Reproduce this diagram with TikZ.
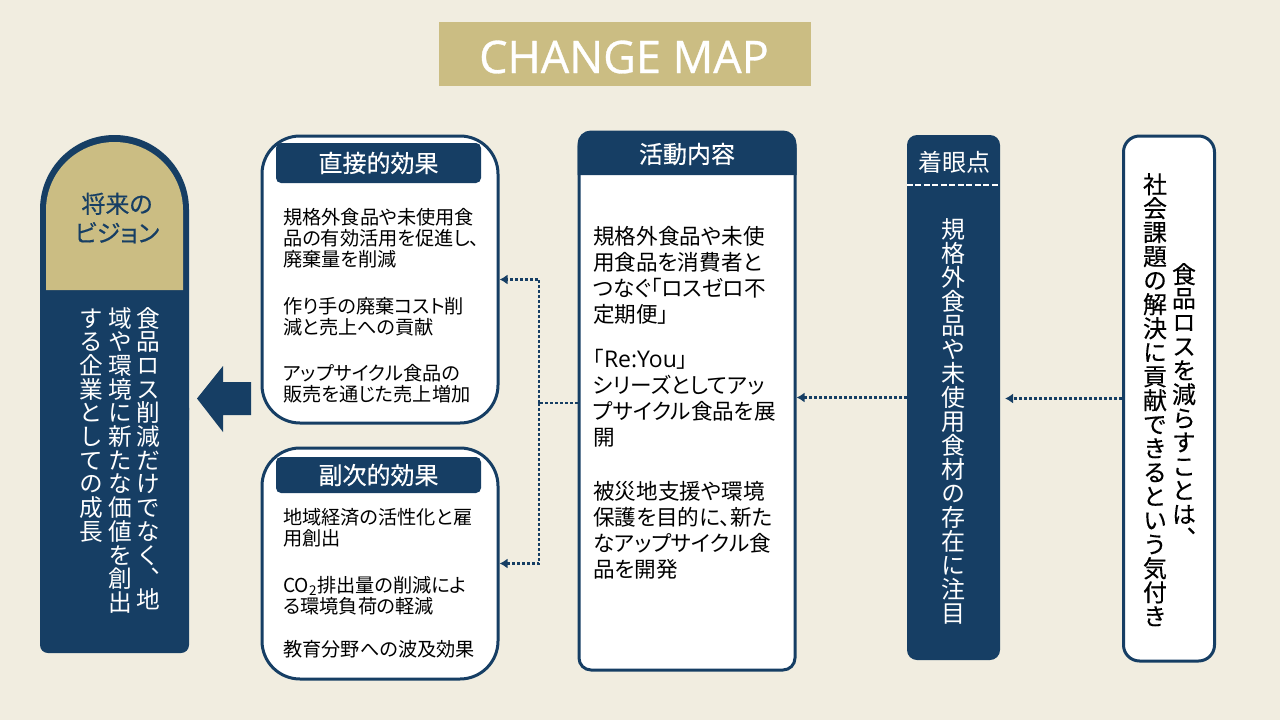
\documentclass[tikz,border=0pt]{standalone}
\usepackage{fontspec}
\usetikzlibrary{arrows.meta,calc}
\setmainfont[RawFeature=+palt]{Noto Sans CJK JP}
\newfontfamily\vertfont[RawFeature=+vert]{Noto Sans CJK JP}
\newfontfamily\vertbold[RawFeature=+vert,FakeBold=0.25]{Noto Sans CJK JP}
\newfontfamily\headfont[RawFeature=+palt,FakeBold=0.45]{Noto Sans CJK JP}
\newfontfamily\titlefont[FakeBold=0.7]{Open Sans}
\newfontfamily\latinfont{Open Sans}
\definecolor{bg}{HTML}{F1EDE0}
\definecolor{navy}{HTML}{163E64}
\definecolor{gold}{HTML}{CBBD83}
\makeatletter
\def\vcomma{、}
\newcommand\vstack[1]{\vbox{\offinterlineskip\@tfor\vch:=#1\do{\hbox to 1em{\hss\ifx\vch\vcomma\vrule height .88em depth -.38em width 0pt\else\vrule height .88em depth .12em width 0pt\fi\smash{\vch}\hss}}}}
\newcommand\vcol[2]{{\fontsize{#1}{#1}\vertfont\vstack{#2}}}
\newcommand\vcolb[2]{{\fontsize{#1}{#1}\vertbold\vstack{#2}}}
\makeatother
\tikzset{
  x=1pt,y=-1pt,
  framebox/.style={draw=navy,line width=3pt,fill=white,minimum width=#1,inner sep=0pt},
  headbar/.style={fill=navy,text=white,rounded corners=5pt,inner sep=0pt,font=\headfont\fontsize{24}{24}\selectfont},
  bodytext/.style={anchor=north west,inner sep=0pt,align=left,text=black,font=\fontsize{19.2}{21}\selectfont},
  midtext/.style={anchor=north west,inner sep=0pt,align=left,text=black,font=\fontsize{21.6}{26}\selectfont},
  vtext/.style={anchor=north,inner sep=0pt},
  link/.style={navy,line width=2.8pt,dash pattern=on 2.8pt off 2.2pt,-{Latex[length=8pt,width=10pt]}},
  linkplain/.style={navy,line width=2.8pt,dash pattern=on 2.8pt off 2.2pt},
}
\begin{document}
\begin{tikzpicture}
\useasboundingbox[fill=bg] (0,0) rectangle (1280,720);
% title
\node[fill=gold,minimum width=372pt,minimum height=64pt,inner sep=0pt] (title) at (625,54) {};
\node[inner sep=0pt,text=white,font=\titlefont\fontsize{45}{48}\selectfont] (titletext) at (624,57) {CHANGE MAP};
% vision
\fill[navy,rounded corners=8pt] (40,653) -- (40,400) -- (189,400) -- (189,653) -- cycle;
\fill[navy] (40,420) -- (40,209.5) arc[start angle=180,end angle=0,radius=74.5pt] -- (189,420) -- cycle;
\fill[gold] (46,290) -- (46,210) arc[start angle=180,end angle=0,x radius=68.5pt,y radius=68pt] -- (183,290) -- cycle;
\node[inner sep=0pt,align=center,text=navy,font=\headfont\fontsize{24}{29}\selectfont] (visionhead) at (117,218) {将来の\\ビジョン};
\node[vtext,text=white] (v1) at (148,306) {\vcol{23.7pt}{食品ロス削減だけでなく、地}};
\node[vtext,text=white] (v2) at (120,306) {\vcol{23.7pt}{域や環境に新たな価値を創出}};
\node[vtext,text=white] (v3) at (91,306) {\vcol{23.7pt}{する企業としての成長}};
% block arrow
\fill[navy] (197,398.5) -- (223,366) -- (223,382) -- (251,382) -- (251,415) -- (223,415) -- (223,432) -- cycle;
% direct effects
\node[framebox=236pt,minimum height=287pt,rounded corners=38pt] (direct) at (380,279.5) {};
\node[headbar,minimum width=205pt,minimum height=40pt] (directhead) at (378.5,163) {直接的効果};
\node[bodytext] (d1) at (283,208) {規格外食品や未使用食\\品の有効活用を促進し、\\廃棄量を削減};
\node[bodytext] (d2) at (283,297) {作り手の廃棄コスト削\\減と売上への貢献};
\node[bodytext] (d3) at (283,364) {アップサイクル食品の\\販売を通じた売上増加};
% secondary effects
\node[framebox=236pt,minimum height=231pt,rounded corners=38pt] (second) at (380,563.5) {};
\node[headbar,minimum width=205pt,minimum height=36pt] (secondhead) at (378.5,475) {副次的効果};
\node[bodytext] (s1) at (283,508) {地域経済の活性化と雇\\用創出};
\node[bodytext] (s2) at (283,576) {CO\textsubscript{2}排出量の削減によ\\る環境負荷の軽減};
\node[bodytext] (s3) at (283,640) {教育分野への波及効果};
% activity
\node[framebox=216pt,minimum height=538pt,rounded corners=12pt] (activity) at (687,401) {};
\fill[navy] (577.5,175) -- (577.5,148) arc[start angle=180,end angle=90,radius=16pt] -- (780.5,132) arc[start angle=90,end angle=0,radius=16pt] -- (796.5,175) -- cycle;
\node[inner sep=0pt,text=white,font=\headfont\fontsize{24}{24}\selectfont] (activityhead) at (687,154) {活動内容};
\node[midtext] (a1) at (593,226) {規格外食品や未使\\用食品を消費者と\\つなぐ「ロスゼロ不\\定期便」};
\node[midtext] (a2) at (593,349) {「{\latinfont\fontsize{23}{26}\selectfont Re:You}」};
\node[midtext] (a2b) at (593,375) {シリーズとしてアッ\\プサイクル食品を展\\開};
\node[midtext] (a3) at (593,481) {被災地支援や環境\\保護を目的に、新た\\なアップサイクル食\\品を開発};
% focus
\node[fill=navy,minimum width=93pt,minimum height=525pt,inner sep=0pt,rounded corners=10pt] (focus) at (953.5,397.5) {};
\node[inner sep=0pt,text=white,font=\fontsize{24}{24}\selectfont] (focushead) at (954,162) {着眼点};
\draw[white,line width=2pt,dash pattern=on 6pt off 2.5pt] (focus.west |- 0,184.5) -- (focus.east |- 0,184.5);
\node[vtext,text=white] (f1) at (953,217) {\vcol{24pt}{規格外食品や未使用食材の存在に注目}};
% social
\node[framebox=91pt,minimum height=525pt,rounded corners=16pt] (social) at (1169,398.5) {};
\node[vtext,text=black] (c1) at (1155,172) {\vcolb{24pt}{社会課題の解決に貢献できるという気付き}};
\node[vtext,text=black] (c2) at (1184,262) {\vcolb{24pt}{食品ロスを減らすことは、}};
% connectors
\draw[link] (social.west) -- (social.west -| 1005,0);
\draw[link] (focus.west) -- (focus.west -| activity.east);
\coordinate (bus) at (539,403);
\draw[linkplain] ($(activity.west)+(0,2)$) -- (bus);
\draw[link] (bus) |- (direct.east);
\draw[link] (bus) |- (second.east);
\end{tikzpicture}
\end{document}
